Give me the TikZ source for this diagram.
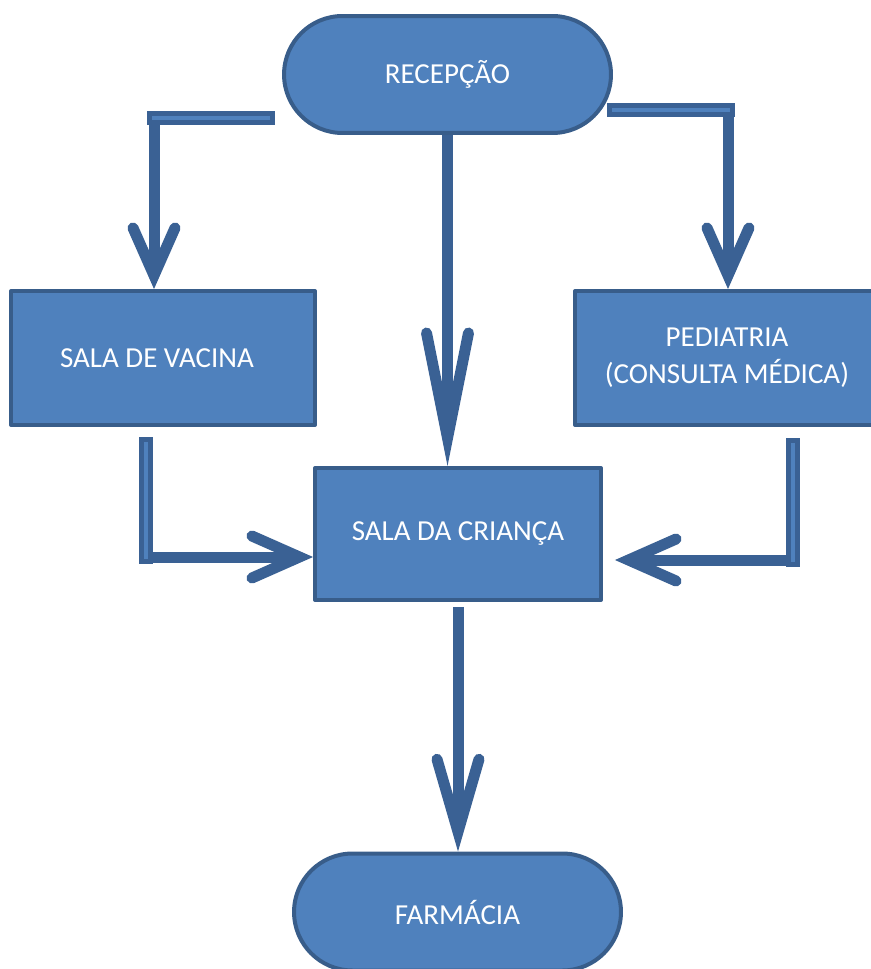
\documentclass[tikz,border=0pt]{standalone}
\usepackage{fontspec}
\setmainfont{Carlito}
\usetikzlibrary{arrows.meta,shapes.misc}

\definecolor{boxfill}{HTML}{4F81BD}
\definecolor{boxline}{HTML}{385D8A}
\definecolor{arrowline}{HTML}{3A6194}

\begin{document}
\begin{tikzpicture}[x=0.02cm,y=-0.02cm,
  main node/.style={rectangle,fill=boxfill,draw=boxline,line width=0.08cm,
  line join=round,text=white,font=\fontsize{16.5}{21}\selectfont,
  align=center,inner sep=0pt,minimum width=6.08cm,minimum height=2.68cm},
  end node/.style={main node,rounded rectangle,minimum width=6.54cm,
  minimum height=2.34cm},
  arrow line/.style={draw=arrowline,line width=0.22cm,
  -{Straight Barb[length=0.95cm,width=0.84cm,line cap=round,line join=miter]}},
  mid arrow/.style={arrow line,
  -{Straight Barb[length=1.45cm,width=0.84cm,line cap=round,line join=miter]}},
  long arrow/.style={arrow line,
  -{Straight Barb[length=2.1cm,width=0.84cm,line cap=round,line join=miter]}},
  bar/.style={-,draw=arrowline,double=boxfill,line width=0.1cm,
  double distance=0.08cm,line cap=rect}]

  \useasboundingbox (0,0) rectangle (871,969);

  \node[end node] (rec) at (447.5,74.5) {RECEPÇÃO};
  \node[main node] (vacina) at (163,358) {SALA DE VACINA\hspace*{0.24cm}};
  \node[main node] (pediatria) at (727,358) {PEDIATRIA\\(CONSULTA MÉDICA)};
  \node[main node,minimum width=5.72cm,minimum height=2.64cm] (crianca)
    at (458,534) {SALA DA CRIANÇA};
  \node[end node] (farmacia) at (457.5,912) {FARMÁCIA};

  \coordinate (vac corner) at (154,118);
  \coordinate (vac end) at (268,118);
  \coordinate (ped corner) at (728,110);
  \coordinate (ped end) at (614,110);
  \coordinate (vac out) at (146,444);
  \coordinate (vac turn) at (146,557);
  \coordinate (ped out) at (792.5,445);
  \coordinate (ped turn) at (792.5,560);

  \path
    %Recepcao to the three rooms%
    (vac corner) edge[arrow line] (vac corner |- vacina.north)
    (rec.south) edge[long arrow] (rec.south |- crianca.north)
    (ped corner) edge[arrow line] (ped corner |- pediatria.north)

    %Vacina and Pediatria to Sala da Crianca%
    (vac turn) edge[arrow line] (vac turn -| crianca.west)
    (ped turn) edge[arrow line,shorten >=0.24cm] (ped turn -| crianca.east)

    %Sala da Crianca to Farmacia%
    (crianca.south) edge[mid arrow,shorten <=0.1cm] (crianca.south |- farmacia.north)

    %Bars on top of the elbows%
    (vac end) edge[bar] (vac corner)
    (ped end) edge[bar] (ped corner)
    (vac out) edge[bar] (vac turn)
    (ped out) edge[bar] (ped turn);

\end{tikzpicture}
\end{document}
